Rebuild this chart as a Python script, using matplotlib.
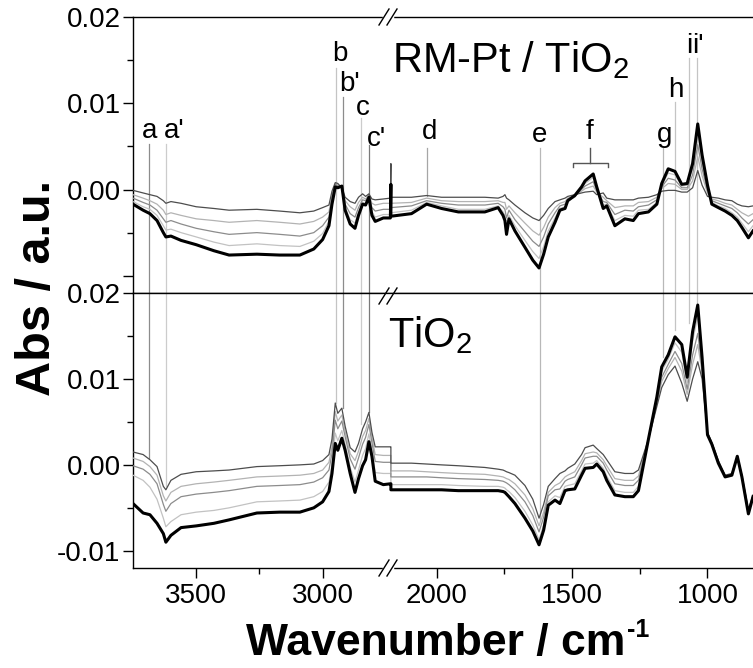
import numpy as np
import matplotlib
matplotlib.use("Agg")
import matplotlib.pyplot as plt
from matplotlib.lines import Line2D
from matplotlib.ticker import FixedLocator

plt.rcParams['font.family'] = ['Liberation Sans', 'DejaVu Sans']
plt.rcParams['mathtext.fontset'] = 'custom'
plt.rcParams['mathtext.rm'] = 'Liberation Sans'
plt.rcParams['mathtext.bf'] = 'Liberation Sans:bold'
plt.rcParams['mathtext.default'] = 'regular'

# wavenumber grids (cm-1), left and right of the axis break
wn_left = [3750, 3710, 3683, 3655, 3630, 3620, 3600, 3560, 3500, 3430, 3370, 3260, 3170,
           3090, 3035, 3000, 2975, 2963, 2950, 2940, 2924, 2911, 2891, 2872, 2858, 2842,
           2830, 2817, 2805, 2792, 2760, 2732, 2730]
wn_right = [2169, 2093, 2037, 1982, 1920, 1822, 1773, 1755, 1748, 1742, 1733, 1711, 1674,
            1645, 1622, 1605, 1588, 1563, 1545, 1526, 1516, 1490, 1465, 1452, 1422, 1409,
            1385, 1372, 1342, 1305, 1274, 1255, 1218, 1187, 1169, 1145, 1120, 1095, 1075,
            1055, 1036, 1020, 1000, 984, 960, 935, 910, 890, 873, 849, 832]

# RM-Pt / TiO2 panel
top_left_c1 = [-0.0001, -0.0004, -0.0006, -0.0008, -0.0013, -0.0016, -0.0014, -0.0016, -0.0020, -0.0022, -0.0024, -0.0023, -0.0025, -0.0027, -0.0025, -0.0021, -0.0018, -0.0002, 0.0008, 0.0007, 0.0002, -0.0009, -0.0014, -0.0016, -0.0009, -0.0005, -0.0008, -0.0005, -0.0011, -0.0012, -0.0011, -0.0010, 0.0030]
top_left_c2 = [-0.0006, -0.0010, -0.0013, -0.0017, -0.0024, -0.0029, -0.0027, -0.0030, -0.0034, -0.0036, -0.0038, -0.0036, -0.0038, -0.0040, -0.0037, -0.0032, -0.0026, -0.0006, 0.0007, 0.0005, 0.0002, -0.0013, -0.0020, -0.0024, -0.0015, -0.0009, -0.0011, -0.0006, -0.0016, -0.0018, -0.0016, -0.0016, -0.0016]
top_left_c3 = [-0.0010, -0.0015, -0.0018, -0.0024, -0.0034, -0.0038, -0.0036, -0.0040, -0.0045, -0.0049, -0.0052, -0.0050, -0.0052, -0.0054, -0.0050, -0.0042, -0.0032, -0.0010, 0.0006, 0.0004, 0.0003, -0.0017, -0.0028, -0.0032, -0.0021, -0.0012, -0.0013, -0.0007, -0.0021, -0.0025, -0.0023, -0.0023, -0.0023]
top_left_c4 = [-0.0014, -0.0020, -0.0023, -0.0030, -0.0042, -0.0047, -0.0046, -0.0050, -0.0055, -0.0061, -0.0065, -0.0063, -0.0065, -0.0066, -0.0060, -0.0051, -0.0037, -0.0014, 0.0004, 0.0003, 0.0003, -0.0021, -0.0035, -0.0039, -0.0026, -0.0015, -0.0016, -0.0008, -0.0026, -0.0032, -0.0029, -0.0029, -0.0029]
top_left_bold = [-0.0017, -0.0024, -0.0028, -0.0036, -0.0050, -0.0055, -0.0054, -0.0059, -0.0064, -0.0071, -0.0076, -0.0075, -0.0076, -0.0076, -0.0069, -0.0058, -0.0042, -0.0017, 0.0003, 0.0002, 0.0004, -0.0024, -0.0040, -0.0045, -0.0030, -0.0017, -0.0018, -0.0009, -0.0030, -0.0037, -0.0033, -0.0033, 0.0006]

top_right_c1 = [-0.0009, -0.0009, -0.0007, -0.0009, -0.0009, -0.0009, -0.0010, -0.0008, -0.0006, -0.0010, -0.0012, -0.0018, -0.0027, -0.0033, -0.0036, -0.0030, -0.0022, -0.0014, -0.0012, -0.0010, -0.0008, -0.0006, -0.0004, -0.0003, -0.0002, -0.0006, -0.0004, -0.0010, -0.0012, -0.0012, -0.0012, -0.0010, -0.0009, -0.0006, -0.0002, -0.0001, -0.0001, -0.0003, -0.0003, 0.0002, 0.0022, 0.0005, -0.0008, -0.0009, -0.0010, -0.0012, -0.0013, -0.0017, -0.0019, -0.0020, -0.0019]
top_right_c2 = [-0.0016, -0.0015, -0.0010, -0.0013, -0.0014, -0.0014, -0.0013, -0.0015, -0.0015, -0.0023, -0.0019, -0.0027, -0.0039, -0.0048, -0.0053, -0.0044, -0.0032, -0.0021, -0.0016, -0.0014, -0.0010, -0.0007, -0.0002, 0.0001, 0.0004, -0.0003, -0.0009, -0.0013, -0.0021, -0.0019, -0.0019, -0.0015, -0.0014, -0.0009, 0.0001, 0.0007, 0.0006, 0.0000, 0.0000, 0.0010, 0.0038, 0.0016, -0.0004, -0.0011, -0.0013, -0.0016, -0.0018, -0.0023, -0.0027, -0.0031, -0.0028]
top_right_c3 = [-0.0021, -0.0019, -0.0013, -0.0016, -0.0018, -0.0018, -0.0016, -0.0020, -0.0023, -0.0033, -0.0024, -0.0035, -0.0049, -0.0060, -0.0066, -0.0055, -0.0040, -0.0027, -0.0019, -0.0017, -0.0011, -0.0008, 0.0000, 0.0004, 0.0009, -0.0001, -0.0014, -0.0015, -0.0029, -0.0024, -0.0025, -0.0020, -0.0018, -0.0012, 0.0003, 0.0013, 0.0011, 0.0002, 0.0002, 0.0017, 0.0052, 0.0024, -0.0001, -0.0013, -0.0016, -0.0019, -0.0022, -0.0027, -0.0033, -0.0040, -0.0035]
top_right_c4 = [-0.0027, -0.0024, -0.0015, -0.0019, -0.0023, -0.0023, -0.0019, -0.0026, -0.0030, -0.0044, -0.0030, -0.0042, -0.0059, -0.0072, -0.0080, -0.0066, -0.0048, -0.0033, -0.0022, -0.0020, -0.0012, -0.0009, 0.0002, 0.0007, 0.0014, 0.0001, -0.0018, -0.0017, -0.0036, -0.0030, -0.0031, -0.0024, -0.0023, -0.0015, 0.0005, 0.0019, 0.0017, 0.0004, 0.0005, 0.0024, 0.0065, 0.0033, 0.0002, -0.0015, -0.0019, -0.0022, -0.0027, -0.0032, -0.0039, -0.0049, -0.0042]
top_right_bold = [-0.0031, -0.0028, -0.0017, -0.0022, -0.0026, -0.0026, -0.0021, -0.0030, -0.0036, -0.0052, -0.0034, -0.0048, -0.0067, -0.0082, -0.0091, -0.0075, -0.0055, -0.0038, -0.0024, -0.0022, -0.0013, -0.0007, 0.0003, 0.0010, 0.0018, 0.0003, -0.0022, -0.0019, -0.0042, -0.0034, -0.0036, -0.0028, -0.0026, -0.0017, 0.0007, 0.0024, 0.0021, 0.0006, 0.0007, 0.0030, 0.0076, 0.0040, 0.0005, -0.0017, -0.0021, -0.0025, -0.0030, -0.0036, -0.0044, -0.0056, -0.0048]

# TiO2 panel
bot_left_c1 = [0.0015, 0.0012, 0.0006, -0.0002, -0.0025, -0.0029, -0.0018, -0.0011, -0.0008, -0.0007, -0.0006, -0.0002, -0.0001, 0.0000, 0.0001, 0.0005, 0.0012, 0.0030, 0.0072, 0.0060, 0.0066, 0.0045, 0.0020, 0.0015, 0.0025, 0.0042, 0.0050, 0.0061, 0.0038, 0.0021, 0.0021, 0.0021, 0.0021]
bot_left_c2 = [0.0008, 0.0004, -0.0002, -0.0012, -0.0036, -0.0042, -0.0032, -0.0025, -0.0022, -0.0020, -0.0018, -0.0014, -0.0013, -0.0012, -0.0010, -0.0006, 0.0003, 0.0021, 0.0062, 0.0051, 0.0058, 0.0039, 0.0013, 0.0005, 0.0016, 0.0033, 0.0040, 0.0054, 0.0032, 0.0012, 0.0011, 0.0011, 0.0011]
bot_left_c3 = [-0.0001, -0.0005, -0.0011, -0.0022, -0.0046, -0.0054, -0.0045, -0.0037, -0.0034, -0.0032, -0.0030, -0.0025, -0.0024, -0.0023, -0.0020, -0.0015, -0.0006, 0.0013, 0.0052, 0.0042, 0.0051, 0.0033, 0.0007, -0.0005, 0.0008, 0.0024, 0.0032, 0.0047, 0.0026, 0.0004, 0.0003, 0.0003, 0.0003]
bot_left_c4 = [-0.0012, -0.0018, -0.0026, -0.0040, -0.0062, -0.0072, -0.0066, -0.0058, -0.0055, -0.0053, -0.0050, -0.0043, -0.0042, -0.0041, -0.0037, -0.0031, -0.0020, 0.0000, 0.0037, 0.0028, 0.0040, 0.0024, -0.0003, -0.0020, -0.0006, 0.0011, 0.0019, 0.0036, 0.0017, -0.0009, -0.0010, -0.0010, -0.0010]
bot_left_bold = [-0.0045, -0.0056, -0.0058, -0.0068, -0.0080, -0.0090, -0.0082, -0.0073, -0.0071, -0.0068, -0.0064, -0.0056, -0.0055, -0.0055, -0.0050, -0.0043, -0.0031, -0.0010, 0.0025, 0.0017, 0.0031, 0.0017, -0.0010, -0.0032, -0.0016, -0.0001, 0.0006, 0.0027, 0.0010, -0.0019, -0.0023, -0.0022, -0.0022]

bot_right_c1 = [0.0002, 0.0002, 0.0001, 0.0000, -0.0001, -0.0003, -0.0005, -0.0006, -0.0007, -0.0008, -0.0009, -0.0012, -0.0024, -0.0040, -0.0062, -0.0046, -0.0025, -0.0016, -0.0010, -0.0007, -0.0004, 0.0001, 0.0012, 0.0020, 0.0023, 0.0019, 0.0012, 0.0006, -0.0008, -0.0010, -0.0010, -0.0006, 0.0030, 0.0068, 0.0090, 0.0105, 0.0115, 0.0095, 0.0074, 0.0100, 0.0120, 0.0100, 0.0038, 0.0026, 0.0005, -0.0012, -0.0010, 0.0010, -0.0012, -0.0052, -0.0035]
bot_right_c2 = [-0.0007, -0.0007, -0.0008, -0.0009, -0.0010, -0.0011, -0.0013, -0.0014, -0.0015, -0.0016, -0.0017, -0.0022, -0.0035, -0.0051, -0.0071, -0.0055, -0.0032, -0.0024, -0.0021, -0.0014, -0.0012, -0.0008, 0.0005, 0.0013, 0.0015, 0.0014, 0.0006, -0.0001, -0.0016, -0.0018, -0.0018, -0.0013, 0.0030, 0.0071, 0.0097, 0.0112, 0.0125, 0.0109, 0.0082, 0.0117, 0.0140, 0.0108, 0.0037, 0.0026, 0.0004, -0.0013, -0.0011, 0.0010, -0.0013, -0.0054, -0.0036]
bot_right_c3 = [-0.0014, -0.0014, -0.0014, -0.0015, -0.0016, -0.0017, -0.0018, -0.0019, -0.0020, -0.0021, -0.0023, -0.0029, -0.0043, -0.0059, -0.0078, -0.0061, -0.0036, -0.0029, -0.0028, -0.0019, -0.0017, -0.0014, 0.0000, 0.0008, 0.0010, 0.0010, 0.0002, -0.0006, -0.0022, -0.0024, -0.0024, -0.0018, 0.0030, 0.0074, 0.0102, 0.0117, 0.0132, 0.0118, 0.0088, 0.0128, 0.0153, 0.0113, 0.0037, 0.0025, 0.0004, -0.0013, -0.0011, 0.0010, -0.0013, -0.0055, -0.0036]
bot_right_c4 = [-0.0023, -0.0023, -0.0023, -0.0023, -0.0024, -0.0025, -0.0025, -0.0026, -0.0027, -0.0029, -0.0031, -0.0038, -0.0054, -0.0070, -0.0087, -0.0070, -0.0043, -0.0036, -0.0038, -0.0025, -0.0024, -0.0022, -0.0007, 0.0001, 0.0002, 0.0005, -0.0004, -0.0013, -0.0030, -0.0032, -0.0032, -0.0025, 0.0030, 0.0077, 0.0109, 0.0123, 0.0142, 0.0131, 0.0096, 0.0144, 0.0173, 0.0120, 0.0036, 0.0024, 0.0003, -0.0014, -0.0012, 0.0010, -0.0014, -0.0056, -0.0037]
bot_right_bold = [-0.0029, -0.0029, -0.0029, -0.0029, -0.0030, -0.0030, -0.0030, -0.0031, -0.0032, -0.0034, -0.0037, -0.0045, -0.0062, -0.0077, -0.0093, -0.0076, -0.0047, -0.0041, -0.0045, -0.0030, -0.0029, -0.0028, -0.0012, -0.0004, -0.0003, 0.0001, -0.0008, -0.0018, -0.0035, -0.0037, -0.0037, -0.0030, 0.0030, 0.0079, 0.0114, 0.0128, 0.0149, 0.0140, 0.0102, 0.0155, 0.0186, 0.0125, 0.0035, 0.0024, 0.0002, -0.0014, -0.0012, 0.0010, -0.0014, -0.0057, -0.0037]

# band assignments
peak_names = ["a", "a'", "b", "b'", "c", "c'", "d", "e", "g", "h", "i", "i'"]
peak_wn = [3687, 3620, 2949, 2921, 2850, 2818, 2036, 1618, 1164, 1120, 1068, 1038]
label_wn = [3683, 3588, 2931, 2893, 2842, 2786, 2025, 1619, 1160, 1116, 1068, 1035]
label_y = [0.0060, 0.0060, 0.0149, 0.0114, 0.0086, 0.0051, 0.0059, 0.0055, 0.0055, 0.0107, 0.0158, 0.0158]
line_top = [0.0053, 0.0053, 0.0141, 0.0107, 0.0083, 0.0052, 0.0048, 0.0048, 0.0048, 0.0101, 0.0153, 0.0153]
line_low = [0.0008, -0.0025, 0.0072, 0.0066, 0.0047, 0.0061, None, -0.0064, 0.0126, 0.0157, 0.0165, 0.0180]
line_col = ['#8c8c8c', '#cccccc', '#c4c4c4', '#8c8c8c', '#cccccc', '#7a7a7a',
            '#a6a6a6', '#b8b8b8', '#b8b8b8', '#c4c4c4', '#c4c4c4', '#c4c4c4']
d_line_end = -0.0007
f_range = [1496, 1367]
f_center = 1434

# broken x axis: px per cm-1 on each side
X_MAX, X_BREAK_HI, X_BREAK_LO, X_MIN = 3750, 2730, 2169, 832
K_L, K_R = 0.2527, 0.2707
W_L = (X_MAX - X_BREAK_HI) * K_L


def fwd(x):
    x = np.asarray(x, dtype=float)
    return np.where(x >= X_BREAK_HI, (x - X_MAX) * K_L,
                    np.where(x <= X_BREAK_LO, -W_L + (x - X_BREAK_LO) * K_R, -W_L))


def inv(u):
    u = np.asarray(u, dtype=float)
    return np.where(u >= -W_L, X_MAX + u / K_L, X_BREAK_LO + (u + W_L) / K_R)


W, H = 753, 668
fig = plt.figure(figsize=(W / 100, H / 100), dpi=100)
ax_top = fig.add_axes([133 / W, 1 - 293 / H, 620 / W, 276 / H])
ax_bot = fig.add_axes([133 / W, 1 - 568 / H, 620 / W, 275 / H])

thin_cols = ['#4d4d4d', '#b3b3b3', '#8c8c8c', '#c2c2c2']
panels = [
    (ax_top, [top_left_c1, top_left_c2, top_left_c3, top_left_c4, top_left_bold],
     [top_right_c1, top_right_c2, top_right_c3, top_right_c4, top_right_bold]),
    (ax_bot, [bot_left_c1, bot_left_c2, bot_left_c3, bot_left_c4, bot_left_bold],
     [bot_right_c1, bot_right_c2, bot_right_c3, bot_right_c4, bot_right_bold]),
]

for ax, left, right in panels:
    ax.set_xscale('function', functions=(fwd, inv))
    wn = np.array(wn_left + wn_right)
    for k in [3, 1, 2, 0]:
        ax.plot(wn, left[k] + right[k], color=thin_cols[k], lw=0.9, zorder=3)
    ax.plot(wn, left[4] + right[4], color='black', lw=2.2, zorder=4)
    ax.set_xlim(X_MAX, X_MIN)
    ax.set_ylim(-0.012, 0.02)
    ax.xaxis.set_major_locator(FixedLocator([3500, 3000, 2000, 1500, 1000]))
    ax.xaxis.set_minor_locator(FixedLocator([3250, 1750, 1250]))
    ax.set_yticks([-0.01, 0.0, 0.01, 0.02])
    ax.yaxis.set_minor_locator(FixedLocator([-0.005, 0.005, 0.015]))
    ax.spines['right'].set_visible(False)
    for s in ['left', 'top', 'bottom']:
        ax.spines[s].set_linewidth(1.0)
    ax.tick_params(which='both', direction='out', width=1.0, labelsize=20, right=False, top=False)
    ax.tick_params(which='major', length=7)
    ax.tick_params(which='minor', length=4)
    ax.tick_params(axis='y', pad=2)
    ax.tick_params(axis='x', pad=4)

ax_top.set_yticklabels(['', '0.00', '0.01', '0.02'])
ax_bot.set_yticklabels(['-0.01', '0.00', '0.01', '0.02'])
ax_top.tick_params(axis='x', which='both', bottom=False, labelbottom=False)
ax_bot.set_xticklabels(['3500', '3000', '2000', '1500', '1000'])

# band marker lines and labels
for name, x, lx, ly, yt, yl, c in zip(peak_names, peak_wn, label_wn, label_y,
                                      line_top, line_low, line_col):
    if yl is None:
        ax_top.plot([x, x], [yt, d_line_end], color=c, lw=0.9, zorder=2)
    else:
        ax_top.plot([x, x], [yt, -0.012], color=c, lw=0.9, zorder=2)
        ax_bot.plot([x, x], [0.02, yl], color=c, lw=0.9, zorder=2)
    ax_top.text(lx, ly, name, fontsize=20, ha='center', va='baseline', zorder=5)

ax_top.plot([f_range[0], f_range[0], f_range[1], f_range[1]],
            [0.0026, 0.0031, 0.0031, 0.0026], color='#555555', lw=1.0)
ax_top.plot([f_center, f_center], [0.0031, 0.0048], color='#555555', lw=1.0)
ax_top.text(f_center, 0.0059, 'f', fontsize=20, ha='center', va='baseline')

ax_top.text(0.418, 0.80, 'RM-Pt / TiO$_2$', fontsize=30, transform=ax_top.transAxes,
            ha='left', va='baseline')
ax_bot.text(0.411, 0.804, 'TiO$_2$', fontsize=30, transform=ax_bot.transAxes,
            ha='left', va='baseline')

# axis break marks
for y in [17, 296, 568]:
    fy = 1 - y / H
    fig.add_artist(Line2D([384 / W, 392 / W], [fy, fy], color='white', lw=2.5))
    for xc in [384, 392]:
        fig.add_artist(Line2D([(xc - 5) / W, (xc + 5) / W],
                              [1 - (y + 8) / H, 1 - (y - 8) / H], color='black', lw=1.0))

fig.text(38 / W, 1 - 288 / H, 'Abs / a.u.', rotation=90, fontsize=35, fontweight='bold',
         ha='center', va='center')

# x label with a small raised "-1"
renderer = fig.canvas.get_renderer()
xl_main = fig.text(0, 1 - 655 / H, 'Wavenumber / cm', fontsize=32, fontweight='bold',
                   ha='left', va='baseline')
xl_sup = fig.text(0, 1 - 637 / H, '-1', fontsize=18, fontweight='bold',
                  ha='left', va='baseline')
w_main = xl_main.get_window_extent(renderer).width
w_sup = xl_sup.get_window_extent(renderer).width
x0 = 447 - (w_main + w_sup) / 2
xl_main.set_x(x0 / W)
xl_sup.set_x((x0 + w_main + 1) / W)

fig.savefig('out.png', dpi=100)
